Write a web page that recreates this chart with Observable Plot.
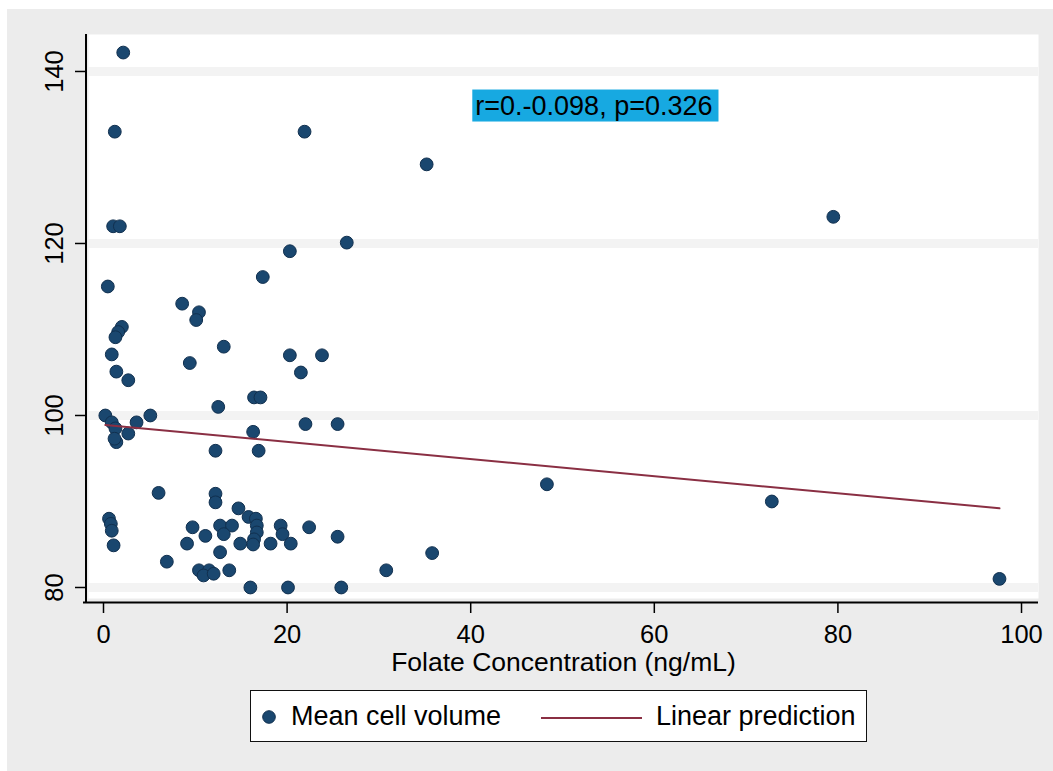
<!DOCTYPE html>
<html>
<head>
<meta charset="utf-8">
<script src="https://cdn.jsdelivr.net/npm/d3@7"></script>
<script src="https://cdn.jsdelivr.net/npm/@observablehq/plot@0.6"></script>
<style>
  html, body { margin: 0; padding: 0; background: #ffffff; }
  body { width: 1053px; height: 771px; position: relative; overflow: hidden; font-family: "Liberation Sans", Arial, sans-serif; }
  #bg { position: absolute; left: 7px; top: 9px; width: 1046px; height: 762px; background: #ececec; }
  #chart { position: absolute; left: 0; top: 0; }
  #legend { position: absolute; left: 250px; top: 690px; width: 615px; height: 50px; background: #fff; border: 1.5px solid #111; }
  #legend .item { position: absolute; top: 0; height: 50px; line-height: 50px; font-size: 27px; color: #000; white-space: nowrap; }
</style>
</head>
<body>
<div id="bg"></div>
<div id="chart"></div>
<div id="legend">
  <svg style="position:absolute;left:0;top:0" width="615" height="50">
    <circle id="legDot" cx="18" cy="26" r="6.3"></circle>
    <line id="legLine" x1="290" x2="391" y1="27" y2="27"></line>
  </svg>
  <div class="item" style="left:40px">Mean cell volume</div>
  <div class="item" style="left:405px">Linear prediction</div>
</div>
<script>
// ---- data ----
const folate = [2.15, 1.23, 21.9, 35.2, 1.05, 1.78, 79.5, 26.5, 20.3, 17.35,
  0.47, 8.57, 10.4, 10.1, 2.0, 1.6, 1.3, 13.1, 0.9, 9.4,
  20.3, 23.8, 21.5, 1.4, 2.7, 16.4, 17.1, 12.5, 0.2, 5.1,
  0.9, 3.6, 22.0, 25.5, 1.3, 2.7, 1.4, 1.2, 16.3, 12.2,
  16.9, 6.0, 12.2, 12.2, 14.7, 15.8, 16.6, 16.7, 16.7, 16.4,
  16.3, 0.6, 0.8, 0.9, 1.1, 9.7, 11.1, 9.1, 12.7, 14.0,
  13.1, 14.9, 12.7, 6.9, 10.4, 11.5, 10.9, 12.0, 13.7, 16.0,
  20.1, 25.9, 18.2, 19.3, 19.5, 20.4, 22.4, 25.5, 35.8, 30.8,
  48.3, 72.8, 97.6];
const mcv = [142.2, 133.0, 133.0, 129.2, 122.0, 122.0, 123.1, 120.1, 119.1, 116.1,
  115.0, 113.0, 112.0, 111.1, 110.3, 109.7, 109.1, 108.0, 107.1, 106.1,
  107.0, 107.0, 105.0, 105.1, 104.1, 102.1, 102.1, 101.0, 100.0, 100.0,
  99.2, 99.2, 99.0, 99.0, 98.5, 97.9, 96.9, 97.3, 98.1, 95.9,
  95.9, 91.0, 90.9, 89.9, 89.2, 88.2, 88.0, 87.2, 86.4, 85.6,
  85.0, 88.0, 87.4, 86.6, 84.9, 87.0, 86.0, 85.1, 87.2, 87.2,
  86.2, 85.1, 84.1, 83.0, 82.0, 82.0, 81.4, 81.6, 82.0, 80.0,
  80.0, 80.0, 85.1, 87.2, 86.2, 85.1, 87.0, 85.9, 84.0, 82.0,
  92.0, 90.0, 81.0];
const fitX = [0.2, 97.6];
const fitY = [98.9, 89.2];
const xTicks = [0, 20, 40, 60, 80, 100];
const yTicks = [80, 100, 120, 140];
const xTitle = "Folate Concentration (ng/mL)";
const annotText = ["r=0.-0.098, p=0.326"];
const annotX = [40.5];
const annotY = [136.0];

// ---- styling ----
const dotFill = "#1a476f";
const dotStroke = "#11304f";
const lineColor = "#8a2f43";
const boxColor = "#17a9e1";
const font = "Liberation Sans, Arial, sans-serif";

const points = folate.map((x, i) => ({x, y: mcv[i]}));
const fit = fitX.map((x, i) => ({x, y: fitY[i]}));
const annot = annotText.map((t, i) => ({t, x: annotX[i], y: annotY[i]}));

const chart = Plot.plot({
  width: 1053,
  height: 680,
  marginLeft: 88,
  marginRight: 15,
  marginTop: 34,
  marginBottom: 82,
  style: {background: "transparent", fontFamily: font, color: "#000"},
  x: {domain: [-1.634, 101.85]},
  y: {domain: [78.72, 144.30]},
  marks: [
    Plot.frame({fill: "white", stroke: null}),
    Plot.gridY(yTicks, {stroke: "#f3f3f3", strokeOpacity: 1, strokeWidth: 9}),
    Plot.ruleX([-1.634], {dx: -2.5, insetBottom: -5, stroke: "#000", strokeWidth: 2}),
    Plot.ruleY([78.72], {dy: 4, insetLeft: -5, stroke: "#000", strokeWidth: 2}),
    Plot.axisX({ticks: xTicks, tickSize: 10, dy: 5, tickPadding: 11, fontSize: 25.5, label: null, tickFormat: d => String(d), stroke: "#000", strokeWidth: 1.5}),
    Plot.axisY({ticks: yTicks, tickSize: 10, dx: -3, tickFormat: () => "", label: null, stroke: "#000", strokeWidth: 1.5}),
    Plot.text(yTicks, {y: d => d, text: d => String(d), frameAnchor: "left", dx: -34, rotate: -90, textAnchor: "middle", lineAnchor: "middle", fontSize: 25.5, fill: "#000"}),
    Plot.text([xTitle], {frameAnchor: "bottom", dy: 64, lineAnchor: "middle", fontSize: 26.5, fill: "#000"}),
    Plot.dot(points, {x: "x", y: "y", r: 6.4, fill: dotFill, stroke: dotStroke, strokeWidth: 1}),
    Plot.line(fit, {x: "x", y: "y", stroke: lineColor, strokeWidth: 2}),
    Plot.text(annot, {x: "x", y: "y", text: "t", textAnchor: "start", lineAnchor: "middle", fontSize: 27, fill: "#000", className: "annot"})
  ]
});
document.getElementById("chart").appendChild(chart);

// background box behind the annotation, sized from the rendered text
const annotG = chart.querySelector("g.annot");
if (annotG) {
  annotG.querySelectorAll("text").forEach(t => {
    const b = t.getBBox();
    const r = document.createElementNS("http://www.w3.org/2000/svg", "rect");
    r.setAttribute("x", b.x - 3);
    r.setAttribute("y", b.y + b.height / 2 - 16);
    r.setAttribute("width", b.width + 9);
    r.setAttribute("height", 32);
    r.setAttribute("fill", boxColor);
    const tr = t.getAttribute("transform");
    if (tr) r.setAttribute("transform", tr);
    annotG.insertBefore(r, t);
  });
}

// legend symbols
const ld = document.getElementById("legDot");
ld.setAttribute("fill", dotFill); ld.setAttribute("stroke", dotStroke);
const ll = document.getElementById("legLine");
ll.setAttribute("stroke", lineColor); ll.setAttribute("stroke-width", 2);
</script>
</body>
</html>
